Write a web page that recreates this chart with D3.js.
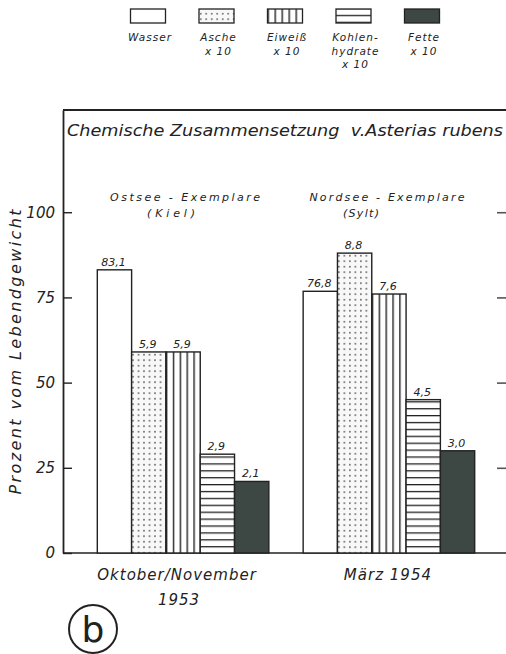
<!DOCTYPE html>
<html>
<head>
<meta charset="utf-8">
<script src="https://cdn.jsdelivr.net/npm/d3@7"></script>
<style>
  body { margin: 0; background: #fff; }
  svg { display: block; }
  text { font-family: "DejaVu Sans", sans-serif; font-style: italic; fill: #222; white-space: pre; }
</style>
</head>
<body>
<div id="chart"></div>
<script>
// data (Asche, Eiweiß, Kohlenhydrate, Fette drawn x 10)
const periods = ["Oktober/November 1953", "März 1954"];
const periodLines = [["Oktober/November", "1953"], ["März 1954"]];
const origins = [["Ostsee - Exemplare", "(Kiel)"], ["Nordsee - Exemplare", "(Sylt)"]];
const series = ["Wasser", "Asche", "Eiweiß", "Kohlenhydrate", "Fette"];
const legendLabels = [["Wasser"], ["Asche", "x 10"], ["Eiweiß", "x 10"], ["Kohlen-", "hydrate", "x 10"], ["Fette", "x 10"]];
const factor = [1, 10, 10, 10, 10];
const wasser = [83.1, 76.8];
const asche = [5.9, 8.8];
const eiweiss = [5.9, 7.6];
const kohlenhydrate = [2.9, 4.5];
const fette = [2.1, 3.0];
const yTicks = [0, 25, 50, 75, 100];
const title = "Chemische Zusammensetzung  v.Asterias rubens";
const yTitle = "Prozent vom Lebendgewicht";

const values = [wasser, asche, eiweiss, kohlenhydrate, fette];
const fills = ["#fff", "url(#dots)", "url(#vlines)", "url(#hlines)", "#3d4744"];
const ink = "#222";

const width = 506, height = 654;
const left = 63, right = 509;

const svg = d3.select("#chart").append("svg")
  .attr("width", width)
  .attr("height", height);

const y = d3.scaleLinear().domain([0, 130]).range([553, 110]);

const x0 = d3.scaleBand()
  .domain(periods)
  .range([left, right])
  .paddingInner(1 / 6)
  .paddingOuter(1 / 6);

const x1 = d3.scaleBand().domain(series).range([0, x0.bandwidth()]);

// fill patterns
const defs = svg.append("defs");

const dots = defs.append("pattern")
  .attr("id", "dots")
  .attr("patternUnits", "userSpaceOnUse")
  .attr("width", 5.5).attr("height", 5.5);
dots.append("rect").attr("width", 5.5).attr("height", 5.5).attr("fill", "#f8f8f8");
dots.append("rect").attr("x", 2).attr("y", 2).attr("width", 1.4).attr("height", 1.4).attr("fill", "#333");

const vlines = defs.append("pattern")
  .attr("id", "vlines")
  .attr("patternUnits", "objectBoundingBox")
  .attr("width", 0.2).attr("height", 1);
vlines.append("rect").attr("width", 50).attr("height", 600).attr("fill", "#fff");
vlines.append("rect").attr("width", 1.4).attr("height", 600).attr("fill", ink);

const hlines = defs.append("pattern")
  .attr("id", "hlines")
  .attr("patternUnits", "userSpaceOnUse")
  .attr("y", y(0))
  .attr("width", 10).attr("height", 6.9);
hlines.append("rect").attr("width", 10).attr("height", 6.9).attr("fill", "#fff");
hlines.append("rect").attr("width", 10).attr("height", 1.3).attr("fill", ink);

// legend
const legend = svg.append("g").attr("class", "legend");
series.forEach((s, j) => {
  const cx = 148 + j * 68.5;
  legend.append("rect")
    .attr("x", cx - 17.5).attr("y", 9)
    .attr("width", 35).attr("height", 14)
    .attr("fill", fills[j])
    .attr("stroke", ink).attr("stroke-width", 1.3);
  legendLabels[j].forEach((t, k) => {
    legend.append("text")
      .attr("x", cx + 2).attr("y", 41 + k * 13.5)
      .attr("text-anchor", "middle")
      .attr("font-size", 10.5)
      .attr("letter-spacing", 1)
      .text(t);
  });
});

// frame: top line and baseline
svg.append("line")
  .attr("x1", left).attr("x2", right)
  .attr("y1", y(130)).attr("y2", y(130))
  .attr("stroke", ink).attr("stroke-width", 2);
svg.append("line")
  .attr("x1", left).attr("x2", right)
  .attr("y1", y(0)).attr("y2", y(0))
  .attr("stroke", ink).attr("stroke-width", 1.6);

// axes
const yAxis = svg.append("g")
  .attr("transform", `translate(${left},0)`)
  .call(d3.axisLeft(y).tickValues(yTicks).tickSize(-9).tickSizeOuter(0).tickPadding(8));
yAxis.select(".domain").attr("stroke", ink).attr("stroke-width", 1.8);
yAxis.selectAll(".tick line").attr("stroke", ink).attr("stroke-width", 1.4);
yAxis.selectAll(".tick text").style("font-size", "15px").attr("fill", ink);

const rAxis = svg.append("g")
  .attr("transform", `translate(${right},0)`)
  .call(d3.axisRight(y).tickValues(yTicks.slice(1)).tickSize(-12).tickSizeOuter(0).tickFormat(""));
rAxis.select(".domain").attr("stroke", ink).attr("stroke-width", 1.8);
rAxis.selectAll(".tick line").attr("stroke", "#555").attr("stroke-width", 1.6);

// bars
const groups = svg.selectAll("g.period")
  .data(periods)
  .join("g")
  .attr("class", "period")
  .attr("transform", (d) => `translate(${x0(d)},0)`);

groups.each(function (p, i) {
  const g = d3.select(this);
  series.forEach((s, j) => {
    const v = values[j][i] * factor[j];
    g.append("rect")
      .attr("x", x1(s))
      .attr("y", y(v))
      .attr("width", x1.bandwidth())
      .attr("height", y(0) - y(v))
      .attr("fill", fills[j])
      .attr("stroke", ink)
      .attr("stroke-width", 1.4);
    g.append("text")
      .attr("x", x1(s) + x1.bandwidth() / 2 - 1)
      .attr("y", y(v) - 4)
      .attr("text-anchor", "middle")
      .attr("font-size", 11)
      .text(values[j][i].toFixed(1).replace(".", ","));
  });
});

// title and group captions
svg.append("text")
  .attr("x", 67).attr("y", 136)
  .attr("font-size", 16)
  .attr("textLength", 436)
  .attr("lengthAdjust", "spacingAndGlyphs")
  .text(title);

const originOffsets = [[2, -12], [-2, -28]];
const originWidths = [[150, 48], [155, 36]];
origins.forEach((lines, i) => {
  const cx = x0(periods[i]) + x0.bandwidth() / 2;
  lines.forEach((t, k) => {
    svg.append("text")
      .attr("x", cx + originOffsets[i][k])
      .attr("y", 201 + k * 16)
      .attr("text-anchor", "middle")
      .attr("font-size", 11)
      .attr("textLength", originWidths[i][k])
      .attr("lengthAdjust", "spacing")
      .text(t);
  });
});

periodLines.forEach((lines, i) => {
  const cx = x0(periods[i]) + x0.bandwidth() / 2;
  lines.forEach((t, k) => {
    svg.append("text")
      .attr("x", cx - 6 + (i === 0 && k === 1 ? 2 : 0) + (i === 1 ? 5 : 0))
      .attr("y", 580 + k * 25)
      .attr("text-anchor", "middle")
      .attr("font-size", 15)
      .attr("letter-spacing", 1)
      .text(t);
  });
});

// y-axis title
svg.append("text")
  .attr("transform", "translate(21,352) rotate(-90)")
  .attr("text-anchor", "middle")
  .attr("font-size", 16)
  .attr("textLength", 285)
  .attr("lengthAdjust", "spacing")
  .text(yTitle);

// panel mark
svg.append("circle")
  .attr("cx", 93).attr("cy", 629).attr("r", 24)
  .attr("fill", "none").attr("stroke", ink).attr("stroke-width", 2);
svg.append("text")
  .attr("x", 93).attr("y", 642)
  .attr("text-anchor", "middle")
  .attr("font-size", 36)
  .style("font-style", "normal")
  .text("b");
</script>
</body>
</html>
